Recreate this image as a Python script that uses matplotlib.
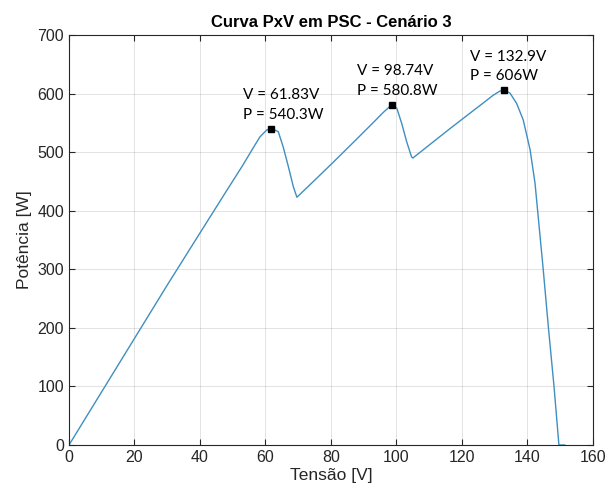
import numpy as np
import matplotlib.pyplot as plt

tensao = [0, 10.0, 20.0, 30.0, 40.0, 48.0, 53.0, 56.0, 58.3, 60.4, 61.83,
          63.9, 65.4, 67.0, 68.5, 69.6,
          75.0, 80.0, 87.8, 93.0, 96.0, 97.8, 98.74,
          100.1, 101.6, 103.1, 104.6, 105.0,
          112.0, 116.3, 120.0, 126.5, 129.5, 131.5, 132.9,
          134.7, 136.7, 138.7, 140.8, 142.3, 143.1, 144.8, 146.4,
          148.1, 149.6, 151.4]
potencia = [0, 91, 182, 273, 362, 433, 477, 505, 526, 538, 540.3,
            535, 509, 475, 441, 423,
            452, 479, 522, 551, 568, 577, 580.8,
            575, 549, 518, 492, 490,
            521, 540, 556, 584, 597, 604, 606,
            600.5, 583, 555, 504, 447, 400, 300, 200,
            100, 0, 0]

# Pontos de maxima potencia (data tips)
v_mpp = [61.83, 98.74, 132.9]
p_mpp = [540.3, 580.8, 606]
rotulos_v = ["61.83", "98.74", "132.9"]
rotulos_p = ["540.3", "580.8", "606"]

plt.rcParams['font.family'] = ['Liberation Sans', 'DejaVu Sans']
COR_EIXO = '#262626'

fig = plt.figure(figsize=(6.1, 4.95), dpi=100)
ax = fig.add_axes([0.1131, 0.101, 0.859, 0.8283])

ax.plot(tensao, potencia, color='#3f8fc0', linewidth=1.0)
ax.plot(v_mpp, p_mpp, 's', color='black', markersize=4)

offsets = [(-28, 7), (-35, 7), (-34, 7)]
for v, p, tv, tp, off in zip(v_mpp, p_mpp, rotulos_v, rotulos_p, offsets):
    ax.annotate(f"V = {tv}V\nP = {tp}W", xy=(v, p), xytext=off,
                textcoords='offset pixels', ha='left', va='bottom',
                fontsize=11, family=['Lato', 'DejaVu Sans'], linespacing=1.5,
                color='black')

ax.set_xlim(0, 160)
ax.set_ylim(0, 700)
ax.set_xticks(np.arange(0, 161, 20))
ax.set_yticks(np.arange(0, 701, 100))
ax.grid(True, color=COR_EIXO, alpha=0.15, linewidth=0.6)
ax.set_axisbelow(True)

for s in ax.spines.values():
    s.set_color(COR_EIXO)
    s.set_linewidth(0.8)
ax.tick_params(direction='in', top=True, right=True, length=4,
               color=COR_EIXO, labelsize=11.5, labelcolor=COR_EIXO)

ax.set_title("Curva PxV em PSC - Cenário 3", fontsize=12, fontweight='bold',
             color='black', pad=6)
ax.set_xlabel("Tensão [V]", fontsize=12.5, color=COR_EIXO, labelpad=2)
ax.set_ylabel("Potência [W]", fontsize=12.5, color=COR_EIXO, labelpad=4)

fig.savefig("out.png", dpi=100)
